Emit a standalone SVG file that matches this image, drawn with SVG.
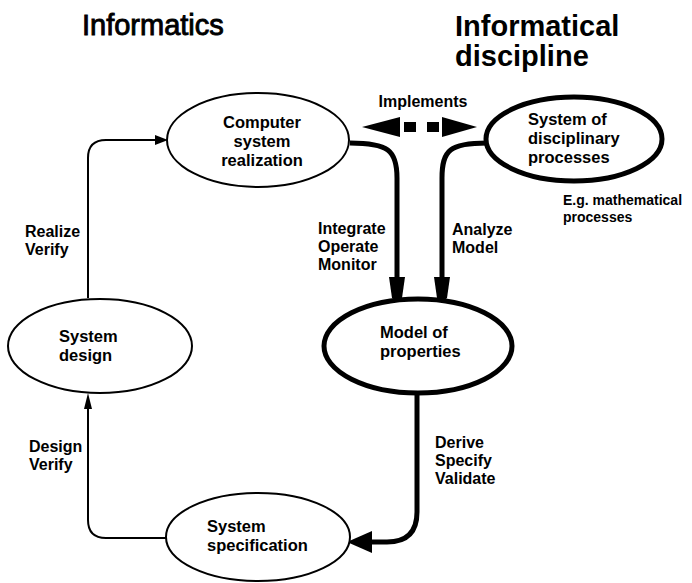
<svg xmlns="http://www.w3.org/2000/svg" width="692" height="583" viewBox="0 0 692 583">
  <style>
    text { font-family: "Liberation Sans", Arial, sans-serif; font-weight: bold; fill: #000; }
    .title { font-size: 29px; }
    .title-plain { font-size: 29px; font-weight: normal; stroke: #000; stroke-width: 0.9px; }
    .node-text { font-size: 16.5px; }
    .label { font-size: 16px; }
    .note { font-size: 14px; }
    .node-thin { fill: #fff; stroke: #000; stroke-width: 2; }
    .node-thick { fill: #fff; stroke: #000; stroke-width: 5; }
    .line-thin { fill: none; stroke: #000; stroke-width: 2; }
    .line-thick { fill: none; stroke: #000; stroke-width: 5; }
    .head { fill: #000; stroke: none; }
  </style>

  <rect width="692" height="583" fill="#fff"/>

  <!-- column headings -->
  <g id="headings">
    <text class="title-plain" x="82" y="35">Informatics</text>
    <text class="title" x="455" y="36">Informatical</text>
    <text class="title" x="455" y="66">discipline</text>
  </g>

  <!-- connectors -->
  <g id="connectors">
    <!-- design -> realization -->
    <path class="line-thin" d="M88,298 L88,158 Q88,140 106,140 L157,140"/>
    <polygon class="head" points="168,140 155,135 155,145"/>
    <!-- specification -> design -->
    <path class="line-thin" d="M167,538 L106,538 Q88,538 88,520 L88,407"/>
    <polygon class="head" points="88,393 84,409 92,409"/>
    <!-- realization -> model -->
    <path class="line-thick" d="M350,143 C388,143 397,150 397,178 L397,281"/>
    <polygon class="head" points="389,277 405,277 402,298 397,302 392,298"/>
    <!-- disciplinary processes -> model -->
    <path class="line-thick" d="M487,143 C450,143 442,150 442,178 L442,281"/>
    <polygon class="head" points="434,277 450,277 447,298 442,302 437,298"/>
    <!-- model -> specification -->
    <path class="line-thick" d="M417,392 L417,512 Q417,542 387,542 L370,542"/>
    <polygon class="head" points="347,542 372,531 372,553"/>
    <!-- implements (dashed, two-headed) -->
    <polygon class="head" points="362,127 400,117 400,137"/>
    <rect class="head" x="404" y="122" width="12" height="10"/>
    <rect class="head" x="427" y="122" width="12" height="10"/>
    <polygon class="head" points="477,127 442,117 442,137"/>

    <!-- connector labels -->
    <text class="label" x="423" y="107" text-anchor="middle">Implements</text>
    <text class="label" x="25" y="237">Realize</text>
    <text class="label" x="25" y="255">Verify</text>
    <text class="label" x="29" y="452">Design</text>
    <text class="label" x="29" y="470">Verify</text>
    <text class="label" x="318" y="234">Integrate</text>
    <text class="label" x="318" y="252">Operate</text>
    <text class="label" x="318" y="270">Monitor</text>
    <text class="label" x="452" y="235">Analyze</text>
    <text class="label" x="452" y="253">Model</text>
    <text class="label" x="435" y="448">Derive</text>
    <text class="label" x="435" y="466">Specify</text>
    <text class="label" x="435" y="484">Validate</text>
  </g>

  <!-- nodes -->
  <g id="computer-system-realization">
    <ellipse class="node-thin" cx="258" cy="140" rx="91" ry="47"/>
    <text class="node-text" x="262" y="128" text-anchor="middle">Computer</text>
    <text class="node-text" x="262" y="147" text-anchor="middle">system</text>
    <text class="node-text" x="262" y="166" text-anchor="middle">realization</text>
  </g>

  <g id="system-of-disciplinary-processes">
    <ellipse class="node-thick" cx="574" cy="139" rx="88" ry="42"/>
    <text class="node-text" x="528" y="125">System of</text>
    <text class="node-text" x="528" y="144">disciplinary</text>
    <text class="node-text" x="528" y="163">processes</text>
    <text class="note" x="563" y="205">E.g. mathematical</text>
    <text class="note" x="563" y="222">processes</text>
  </g>

  <g id="system-design">
    <ellipse class="node-thin" cx="100" cy="346" rx="92" ry="47"/>
    <text class="node-text" x="59" y="342">System</text>
    <text class="node-text" x="59" y="361">design</text>
  </g>

  <g id="model-of-properties">
    <ellipse class="node-thick" cx="418" cy="346" rx="94" ry="47"/>
    <text class="node-text" x="380" y="338">Model of</text>
    <text class="node-text" x="380" y="357">properties</text>
  </g>

  <g id="system-specification">
    <ellipse class="node-thin" cx="258" cy="537" rx="92" ry="44"/>
    <text class="node-text" x="207" y="532">System</text>
    <text class="node-text" x="207" y="551">specification</text>
  </g>
</svg>
